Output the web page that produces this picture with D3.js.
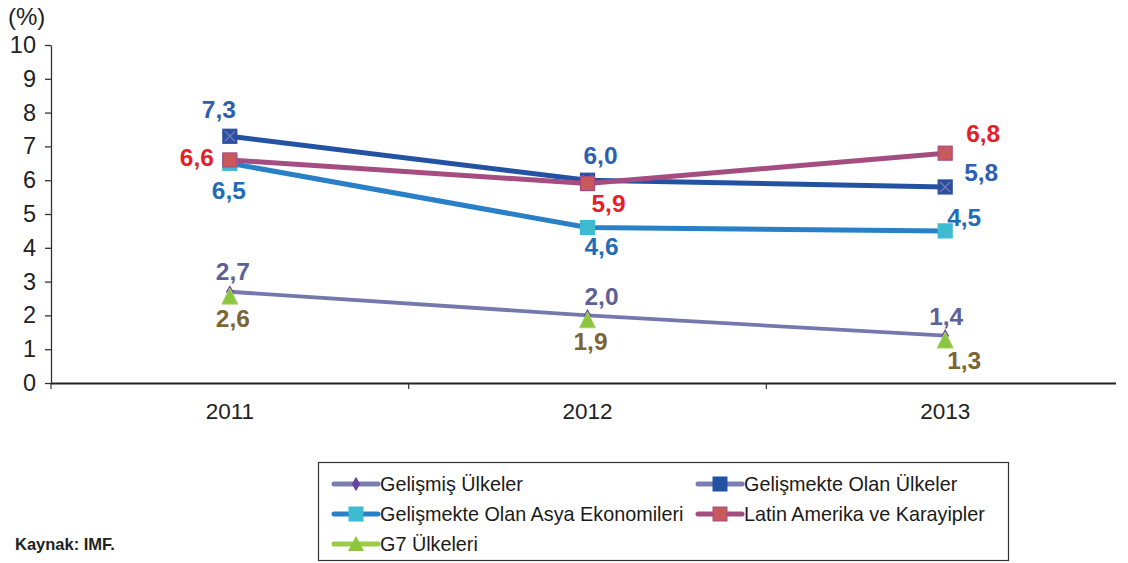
<!DOCTYPE html>
<html><head><meta charset="utf-8">
<script src="https://cdn.jsdelivr.net/npm/d3@7"></script>
<style>body{margin:0;background:#fff}svg{display:block}</style>
</head><body>
<svg id="c" width="1128" height="563"></svg>
<script>
const years = ["2011","2012","2013"];
const yTicks = [0,1,2,3,4,5,6,7,8,9,10];
const gelismis = [2.7, 2.0, 1.4];
const gelismekte = [7.3, 6.0, 5.8];
const asya = [6.5, 4.6, 4.5];
const latin = [6.6, 5.9, 6.8];
const g7 = [2.6, 1.9, 1.3];
const seriesNames = ["Gelişmiş Ülkeler","Gelişmekte Olan Ülkeler","Gelişmekte Olan Asya Ekonomileri","Latin Amerika ve Karayipler","G7 Ülkeleri"];

const fmt = v => v.toFixed(1).replace(".", ",");
const svg = d3.select("#c");
const font = "'Liberation Sans', Arial, sans-serif";
const x = d3.scaleBand().domain(years).range([51, 1124]);
const y = d3.scaleLinear().domain([0,10]).range([383, 45]);
const cx = d => x(d) + x.bandwidth()/2;

// Y axis
const ya = svg.append("g").attr("transform","translate(51,0)")
  .call(d3.axisLeft(y).tickValues(yTicks).tickSize(6).tickSizeOuter(0));
ya.select(".domain").attr("stroke","#333").attr("stroke-width",1.3);
ya.selectAll(".tick line").attr("stroke","#333").attr("stroke-width",1.3);
ya.selectAll(".tick text").attr("font-family",font).attr("font-size",23.5).attr("fill","#222").attr("x",-15);
svg.append("text").attr("x",8).attr("y",25).attr("font-family",font).attr("font-size",24).attr("fill","#222").text("(%)");

// X axis
const xa = svg.append("g").attr("transform","translate(0,383)")
  .call(d3.axisBottom(x).tickSize(0).tickPadding(20));
xa.select(".domain").remove();
svg.append("line").attr("x1",51).attr("x2",1116).attr("y1",383.5).attr("y2",383.5).attr("stroke","#222").attr("stroke-width",2.2);
[1,2].forEach(i=>{ const xx = x(years[i]);
  svg.append("line").attr("x1",xx).attr("x2",xx).attr("y1",383).attr("y2",389).attr("stroke","#333").attr("stroke-width",1.2); });
svg.append("line").attr("x1",51).attr("x2",51).attr("y1",383).attr("y2",389).attr("stroke","#333").attr("stroke-width",1.2);
xa.selectAll(".tick text").attr("font-family",font).attr("font-size",22.5).attr("fill","#222");

const line = d3.line().x((d,i)=>cx(years[i])).y(d=>y(d));

// lines
svg.append("path").datum(asya).attr("d",line).attr("fill","none").attr("stroke","#2a80c6").attr("stroke-width",5);
svg.append("path").datum(gelismekte).attr("d",line).attr("fill","none").attr("stroke","#2352a3").attr("stroke-width",5);
svg.append("path").datum(latin).attr("d",line).attr("fill","none").attr("stroke","#a54c81").attr("stroke-width",5);
svg.append("path").datum(gelismis).attr("d",line).attr("fill","none").attr("stroke","#7478ad").attr("stroke-width",3.8);

// markers
function squares(data, fill, stroke, cross){
  data.forEach((v,i)=>{
    const px = cx(years[i]), py = y(v);
    svg.append("rect").attr("x",px-7).attr("y",py-7).attr("width",14).attr("height",14)
      .attr("fill",fill).attr("stroke",stroke).attr("stroke-width",1.2);
    if(cross){
      svg.append("path").attr("d",`M${px-5},${py-5}L${px+5},${py+5}M${px+5},${py-5}L${px-5},${py+5}`)
        .attr("stroke","#6f7cb8").attr("stroke-width",1.3);
    }
  });
}
squares(asya, "#3ebbd0", "#3ebbd0", false);
squares(gelismekte, "#2c4f9e", "#2c4f9e", true);
squares(latin, "#c85a5c", "#a54c81", false);
gelismis.forEach((v,i)=>{
  svg.append("path").attr("transform",`translate(${cx(years[i])},${y(v)})`)
    .attr("d",d3.symbol(d3.symbolDiamond,50)()).attr("fill","#6a45a0");
});
g7.forEach((v,i)=>{
  svg.append("path").attr("transform",`translate(${cx(years[i])},${y(v)+2})`)
    .attr("d","M0,-9L8,7L-8,7Z").attr("fill","#8cc63f").attr("stroke","#a6d36a").attr("stroke-width",1);
});

// data labels: [series, color, offsets per year [dx,dy]]
const labelStyle = [
  [gelismekte, "#2e5fae", [[-11,-25],[13,-23],[36,-12]]],
  [latin, "#e51f2a", [[-33,0],[21,22],[38,-18]]],
  [asya, "#1f6db7", [[-1,29],[14,21],[19,-11]]],
  [gelismis, "#5d6197", [[3,-18],[14,-17],[1,-17]]],
  [g7, "#7c6535", [[3,25],[3,25],[19,23]]]
];
labelStyle.forEach(([data,color,offs])=>{
  data.forEach((v,i)=>{
    svg.append("text").attr("x",cx(years[i])+offs[i][0]).attr("y",y(v)+offs[i][1])
      .attr("text-anchor","middle").attr("dominant-baseline","middle")
      .attr("font-family",font).attr("font-weight","bold").attr("font-size",24.5).attr("fill",color)
      .text(fmt(v));
  });
});

// legend
svg.append("rect").attr("x",318.5).attr("y",462.5).attr("width",690).attr("height",98)
  .attr("fill","#fff").attr("stroke","#333").attr("stroke-width",1.2);
const leg = [
  {name:seriesNames[0], lc:"#7a7eb2", mk:"diamond", mc:"#6a45a0", x:334, y:484},
  {name:seriesNames[1], lc:"#7a7eb2", mk:"square", mc:"#2352a3", x:698, y:484},
  {name:seriesNames[2], lc:"#2a80c6", mk:"square", mc:"#3ebbd0", x:334, y:514},
  {name:seriesNames[3], lc:"#a54c81", mk:"square", mc:"#c85a5c", ms:"#a54c81", x:698, y:514},
  {name:seriesNames[4], lc:"#9ccc44", mk:"tri", mc:"#8cc63f", x:334, y:544}
];
leg.forEach(l=>{
  svg.append("line").attr("x1",l.x).attr("x2",l.x+44).attr("y1",l.y).attr("y2",l.y)
    .attr("stroke",l.lc).attr("stroke-width",5).attr("stroke-linecap","round");
  const mx = l.x+22;
  if(l.mk==="diamond") svg.append("path").attr("transform",`translate(${mx},${l.y})`).attr("d",d3.symbol(d3.symbolDiamond,60)()).attr("fill",l.mc);
  else if(l.mk==="square") svg.append("rect").attr("x",mx-7).attr("y",l.y-7).attr("width",14).attr("height",14).attr("fill",l.mc).attr("stroke",l.ms||l.mc);
  else svg.append("path").attr("transform",`translate(${mx},${l.y})`).attr("d","M0,-8L8,7L-8,7Z").attr("fill",l.mc);
  svg.append("text").attr("x",l.x+46).attr("y",l.y+2).attr("dominant-baseline","middle")
    .attr("font-family",font).attr("font-size",19.8).attr("fill","#1a1a1a").text(l.name);
});

svg.append("text").attr("x",15).attr("y",550).attr("font-family",font).attr("font-weight","bold")
  .attr("font-size",16.5).attr("fill","#222").text("Kaynak: IMF.");
</script>
</body></html>
